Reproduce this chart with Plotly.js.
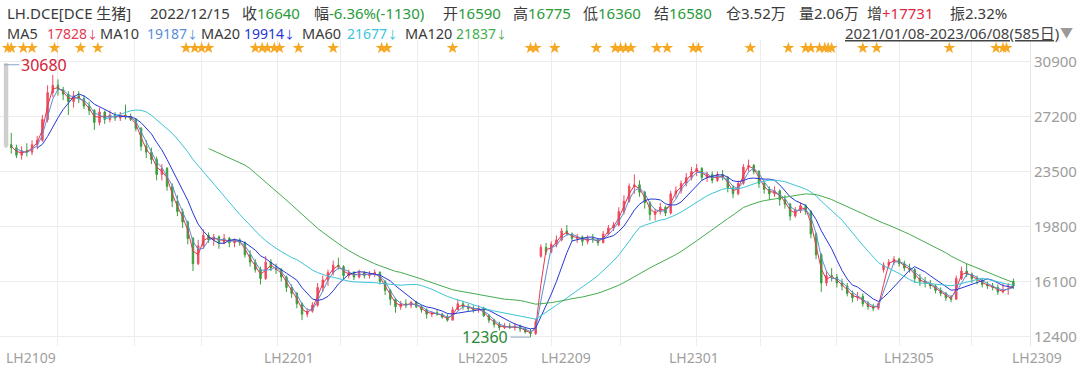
<!DOCTYPE html>
<html><head><meta charset="utf-8">
<script src="https://cdn.plot.ly/plotly-3.0.1.min.js"></script>
<style>html,body{margin:0;padding:0;background:#fff;}#chart{width:1080px;height:369px;}</style>
</head><body><div id="chart"></div>
<script>
// each candle = 3 trading days (585 days total, 2021/01/08 - 2023/06/08)
const openP = [30680,25300,25100,24600,24900,24800,25300,25600,27000,28800,
29300,29000,28700,28200,28600,28400,27900,27600,26800,27500,
27000,27300,27100,27300,27200,27000,26400,25200,24800,24300,
23300,23700,22500,21500,20800,20100,19000,17300,18500,19200,
18900,19100,18700,19000,18700,18900,18700,17900,17400,16900,
16300,17400,17000,16900,16400,15700,15300,14600,13900,14100,
14500,15700,16200,16700,17200,17100,16500,16700,16400,16700,
16500,16600,16700,16100,15500,14900,14400,14600,14500,14700,
14400,14200,13900,14000,13900,13700,13500,14200,14600,14400,
14300,14200,14300,13800,13500,13200,13000,13100,13000,13100,
12900,12700,12600,17800,18400,18100,18600,18900,19500,19300,
19000,19100,18800,19000,18900,18700,19300,19700,19900,20800,
21500,22500,22600,22100,21400,20600,20800,21100,20700,22000,
22200,22700,23100,23500,23700,23100,23300,22900,23300,23100,
22400,22000,22700,23800,23900,23500,22700,22300,22000,22200,
21600,21300,20500,20900,21200,20800,19300,17900,16000,16500,
16400,16000,15800,15300,15000,15100,14600,14400,14300,16900,
17200,17400,17600,17300,17000,16900,16300,16100,16000,15800,
15500,15300,15000,14900,16300,16800,16600,16300,16200,15900,
15800,15700,15400,15800,16100];
const highP = [30680,26100,25300,25200,25400,25600,25900,27300,29300,30000,
29700,29200,28900,28900,28900,28600,28200,27700,27800,27600,
27600,27500,27500,28000,27400,27100,26500,25600,25100,24500,
24000,23800,22700,21900,21000,20200,19100,18900,19600,19400,
19300,19200,19300,19100,19000,19000,18800,18200,17600,17100,
17800,17600,17300,17000,16500,15900,15400,14700,14300,14700,
16000,16500,16900,17500,17700,17200,16900,16800,16900,16800,
16800,16900,16800,16200,15600,15000,14800,14900,14800,14800,
14500,14300,14100,14200,14000,13900,14400,14900,14800,14600,
14500,14500,14400,13900,13600,13400,13300,13300,13300,13200,
13000,12900,13600,18600,18700,18800,19200,19700,19900,19400,
19300,19200,19200,19300,19000,19500,19900,20100,21100,21900,
22700,23300,22900,22200,21500,21000,21400,21200,22200,22500,
22900,23400,23800,24000,23800,23500,23500,23500,23600,23200,
22600,22900,24000,24300,24000,23600,22900,22500,22500,22300,
21900,21400,21100,21400,21300,20900,19400,18000,16800,17000,
16600,16300,16000,15500,15400,15300,14800,14600,14700,17400,
17600,17800,17700,17500,17300,17000,16600,16400,16200,15900,
15700,15400,15200,16500,17100,17300,16700,16500,16300,16100,
16000,15900,16000,16000,16300];
const lowP = [25100,24700,24400,24300,24500,24600,25000,25500,26800,28500,
28600,28300,27300,27800,28100,27700,27300,26300,26600,26700,
26800,26900,26900,27000,26900,26200,24900,24400,24000,22900,
22900,22200,21100,20500,19700,18600,16800,17200,18300,18700,
18500,18300,18600,18400,18400,18500,17700,17100,16700,15900,
16200,16800,16600,16100,15400,15000,14300,13500,13700,14000,
14400,15400,15800,16500,16900,16200,16300,16200,16300,16300,
16300,16400,15900,15200,14500,14000,14200,14300,14300,14300,
14000,13600,13700,13800,13600,13400,13500,14200,14200,14100,
14000,14000,13700,13300,13000,12800,12900,12900,12800,12700,
12600,12360,12500,17700,17900,18000,18400,18800,19200,18800,
18700,18500,18600,18700,18500,18700,19200,19500,19800,20600,
21400,22000,21800,21000,20200,20200,20600,20500,20600,21700,
22000,22500,22900,23200,22900,22800,22700,22800,22900,22100,
21700,21900,22600,23500,23300,22400,22000,21600,21800,21200,
21000,20200,20400,20700,20600,19000,17600,15400,15800,16100,
15700,15500,15100,14700,14800,14400,14200,14100,14200,16700,
17000,17200,17100,16800,16700,16000,15800,15700,15600,15300,
15100,14800,14700,14900,16200,16400,16000,15900,15700,15600,
15500,15200,15300,15200,15600];
const closeP = [25300,25100,24600,24900,24800,25300,25600,27000,28800,29300,
29000,28700,28200,28600,28400,27900,27600,26800,27500,27000,
27300,27100,27300,27200,27000,26400,25200,24800,24300,23300,
23700,22500,21500,20800,20100,19000,17300,18500,19200,18900,
19100,18700,19000,18700,18900,18700,17900,17400,16900,16300,
17400,17000,16900,16400,15700,15300,14600,13900,14100,14500,
15700,16200,16700,17200,17100,16500,16700,16400,16700,16500,
16600,16700,16100,15500,14900,14400,14600,14500,14700,14400,
14200,13900,14000,13900,13700,13500,14200,14600,14400,14300,
14200,14300,13800,13500,13200,13000,13100,13000,13100,12900,
12700,12600,13400,18400,18100,18600,18900,19500,19300,19000,
19100,18800,19000,18900,18700,19300,19700,19900,20800,21500,
22500,22600,22100,21400,20600,20800,21100,20700,22000,22200,
22700,23100,23500,23700,23100,23300,22900,23300,23100,22400,
22000,22700,23800,23900,23500,22700,22300,22000,22200,21600,
21300,20500,20900,21200,20800,19300,17900,16000,16500,16400,
16000,15800,15300,15000,15100,14600,14400,14300,14600,17200,
17400,17600,17300,17000,16900,16300,16100,16000,15800,15500,
15300,15000,14900,16300,16800,16600,16300,16200,15900,15800,
15700,15400,15500,15800,15800];
const daysPerCandle = 3;
const gridDays = [31,75,114,158,194,239,274,316,356,400,437,481,517,559];
const yTicks = [12400,16100,19800,23500,27200,30900];
const contractLabels = ['LH2109','LH2201','LH2205','LH2209','LH2301','LH2305','LH2309'];
const contractDays = [0,149,261,309,383,507,581];
const starDays = [2,4,11,16,29,44,54,105,110,114,118,145,149,152,156,159,170,190,218,221,259,304,307,318,342,353,356,359,362,377,383,398,401,431,453,463,466,471,474,476,478,496,504,546,573,577,579];
const maNames = ['MA5','MA10','MA20','MA60','MA120'];
const maPeriods = [5,10,20,60,120];
const maColors = ['#e5394f','#5b8ed4','#2437d6','#3cc4d8','#45ac4e'];
const maLegendValues = ['17828','19187','19914','21677','21837'];

const FONT = 'Noto Sans, Noto Sans CJK SC, sans-serif';
const UP = '#ee4b5f', DOWN = '#3a9e3e', GREEN_TXT = '#2a9a3a', RED_TXT = '#e0283e';
const W = 1080, H = 369, ML = 0, MR = 50, MT = 40, MB = 23;
const PW = W - ML - MR, PH = H - MT - MB;
const xRange = [-2.5, 592.6], yRange = [11761, 32345];

const xs = closeP.map((_, i) => i * daysPerCandle + 1);
const traces = [];
traces.push({type:'candlestick', x: xs.slice(1), open: openP.slice(1), high: highP.slice(1), low: lowP.slice(1), close: closeP.slice(1),
  increasing:{line:{color:UP,width:1}, fillcolor:UP}, decreasing:{line:{color:DOWN,width:1}, fillcolor:DOWN},
  whiskerwidth:0, hoverinfo:'skip'});
traces.push({type:'candlestick', x: xs.slice(0,1), open: openP.slice(0,1), high: highP.slice(0,1), low: lowP.slice(0,1), close: closeP.slice(0,1),
  increasing:{line:{color:'#cfcfcf',width:3}, fillcolor:'#d4d4d4'}, decreasing:{line:{color:'#cfcfcf',width:3}, fillcolor:'#d4d4d4'},
  whiskerwidth:0, hoverinfo:'skip'});

maPeriods.forEach((p, k) => {
  const n = Math.round(p / daysPerCandle);
  const mx = [], my = [];
  for (let i = n - 1; i < closeP.length; i++) {
    let s = 0; for (let j = i - n + 1; j <= i; j++) s += closeP[j];
    mx.push(xs[i]); my.push(s / n);
  }
  traces.push({type:'scatter', mode:'lines', x: mx, y: my, line:{color: maColors[k], width:1}, hoverinfo:'skip'});
});

const starY = (H - MB - 48) / PH; // row of event markers
traces.push({type:'scatter', mode:'markers', x: starDays, y: starDays.map(() => starY), yaxis:'y2',
  marker:{symbol:'star', size:9, color:'#f7a823', line:{width:0}}, hoverinfo:'skip'});

const px2x = px => (px - ML) / PW;
const px2y = py => (H - MB - py) / PH;
const ann = [];
function txt(xpx, ypx, html, size, color) {
  ann.push({xref:'paper', yref:'paper', x: px2x(xpx), y: px2y(ypx), xanchor:'left', yanchor:'middle',
    text: html, showarrow:false, font:{family:FONT, size:size, color:color}});
}
const g = v => `<span style="color:${GREEN_TXT}">${v}</span>`;
const DARK = '#3a3a3a';
txt(5, 13, 'LH.DCE[DCE 生猪]', 15, DARK);
txt(148, 13, '2022/12/15', 15, DARK);
txt(240, 13, '收' + g('16640'), 15, DARK);
txt(312, 13, '幅' + g('-6.36%(-1130)'), 15, DARK);
txt(441, 13, '开' + g('16590'), 15, DARK);
txt(511, 13, '高' + g('16775'), 15, DARK);
txt(581, 13, '低' + g('16360'), 15, DARK);
txt(652, 13, '结' + g('16580'), 15, DARK);
txt(724, 13, '仓3.52万', 15, DARK);
txt(797, 13, '量2.06万', 15, DARK);
txt(865, 13, `增<span style="color:${RED_TXT}">+17731</span>`, 15, DARK);
txt(948, 13, '振2.32%', 15, DARK);
const maLabelX = [5, 98, 199, 300, 403];
const maValueX = [45, 145, 242, 345, 454];
maNames.forEach((nm, k) => {
  txt(maLabelX[k], 33, nm, 14.5, DARK);
  txt(maValueX[k], 33, maLegendValues[k] + '<span style="font-size:11px">↓</span>', 14, maColors[k]);
});
txt(843, 33, '<u>2021/01/08-2023/06/08(585日)</u>', 15, '#444');
txt(1058, 32, '▼', 13, '#9a9a9a');

contractLabels.forEach((lb, k) => {
  ann.push({xref:'x', yref:'paper', x: contractDays[k], y: px2y(357), xanchor:'left', yanchor:'middle',
    text: lb, showarrow:false, font:{family:FONT, size:14, color:'#a0a0a0'}});
});

// max high / min low markers
let iMax = 0, iMin = 0;
highP.forEach((v, i) => { if (v > highP[iMax]) iMax = i; });
lowP.forEach((v, i) => { if (v < lowP[iMin]) iMin = i; });
ann.push({xref:'x', yref:'y', x: xs[iMax] - 1, y: highP[iMax], text: String(highP[iMax]), showarrow:true, arrowhead:0,
  arrowwidth:1, arrowcolor:'#8aa6c4', ax:15, ay:0, xanchor:'left', yanchor:'middle', standoff:0,
  font:{family:FONT, size:16, color:'#d4213a'}});
ann.push({xref:'x', yref:'y', x: xs[iMin], y: lowP[iMin], text: String(lowP[iMin]), showarrow:true, arrowhead:0,
  arrowwidth:1, arrowcolor:'#8aa6c4', ax:-20, ay:0, xanchor:'right', yanchor:'middle', standoff:0,
  font:{family:FONT, size:16, color:'#2a8a34'}});

const layout = {
  width: W, height: H, margin:{l:ML, r:MR, t:MT, b:MB}, paper_bgcolor:'#fff', plot_bgcolor:'#fff', showlegend:false,
  boxgap: 0.6,
  xaxis:{range:xRange, tickvals:gridDays, showticklabels:false, showgrid:true, gridcolor:'#ececec', gridwidth:1,
    zeroline:false, rangeslider:{visible:false}, ticks:'', showline:false, fixedrange:true},
  yaxis:{side:'right', range:yRange, tickvals:yTicks, ticktext:yTicks.map(String), showgrid:true, gridcolor:'#ececec',
    tickfont:{family:FONT, size:15, color:'#9c9c9c'}, showline:true, linecolor:'#e4e4e4', zeroline:false, ticks:'', fixedrange:true},
  yaxis2:{overlaying:'y', range:[0,1], visible:false, fixedrange:true},
  annotations: ann,
  hovermode:false
};
Plotly.newPlot('chart', traces, layout, {displayModeBar:false, staticPlot:true});
</script></body></html>
